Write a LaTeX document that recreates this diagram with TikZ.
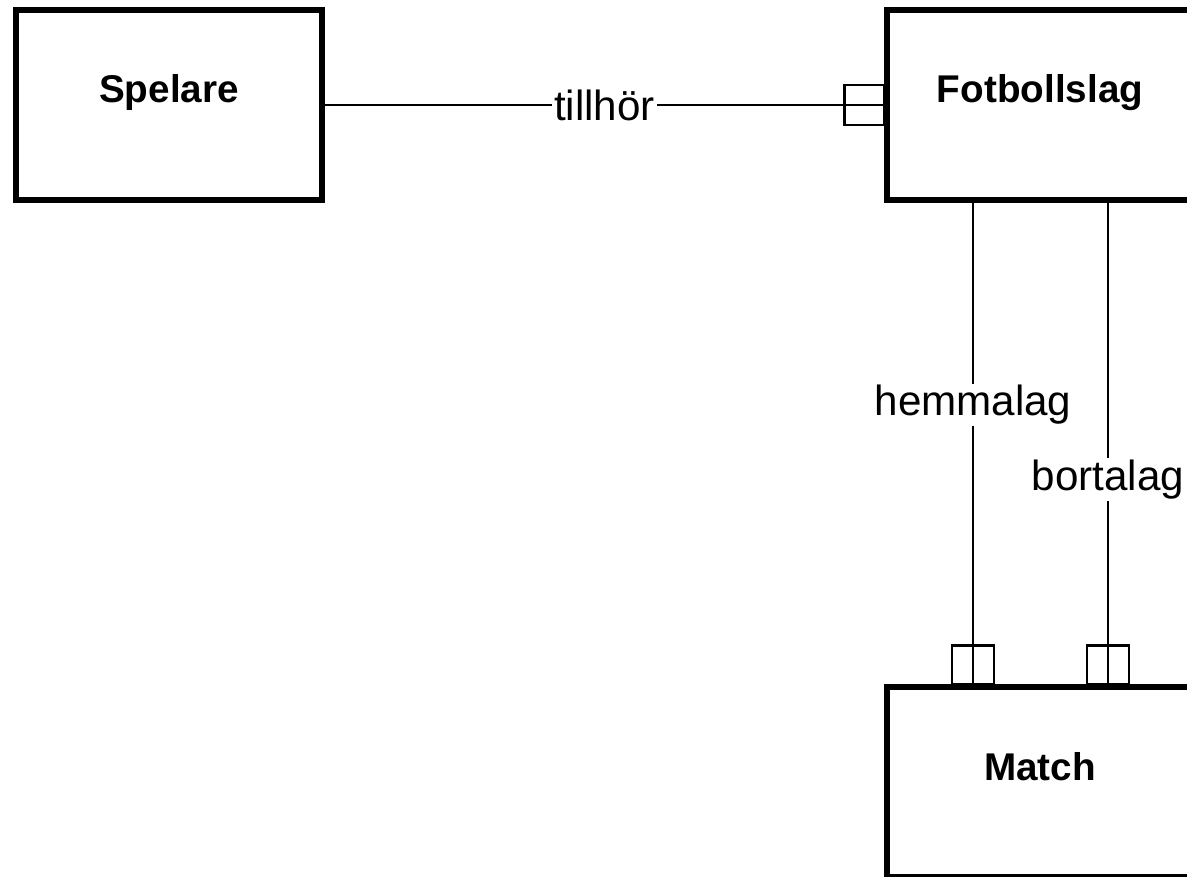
\documentclass[tikz,border=0pt]{standalone}
\usepackage{fontspec}
\setmainfont{Liberation Sans}
\usetikzlibrary{calc,positioning}

\begin{document}
\begin{tikzpicture}[
 entity/.style={draw, line width=3.2pt, minimum width=6.12cm, minimum height=3.8cm, inner sep=0pt},
 etitle/.style={font=\fontsize{22}{26}\selectfont\bfseries},
 rel/.style={fill=white, inner sep=1pt, font=\fontsize{24}{28}\selectfont},
 conn/.style={line width=1.6pt},
 many/.style={line width=1.6pt}
]
\useasboundingbox (0,0) rectangle (23.74,-17.52);
\clip (0,0) rectangle (23.74,-17.52);

% Entities
\node[entity] (spelare) at (3.38,-2.1) {};
\node[entity] (fotboll) at (20.8,-2.1) {};
\node[entity] (match) at (20.8,-15.64) {};

% Titles
\node[etitle] (spelareT) at ($(spelare.north)+(0,-1.7)$) {Spelare};
\node[etitle] (fotbollT) at ($(fotboll.north)+(0,-1.7)$) {Fotbollslag};
\node[etitle] (matchT) at ($(match.north)+(0,-1.65)$) {Match};

% Spelare -- Fotbollslag
\draw[conn] (spelare.east) -- node[rel] (tillhor) {tillhör} (fotboll.west);
\draw[many] ($(fotboll.west)+(-0.8,-0.4)$) rectangle ($(fotboll.west)+(0,0.4)$);

% Fotbollslag -- Match
\coordinate (hm) at (19.46,0);
\coordinate (bt) at (22.16,0);
\foreach \c/\txt/\p in {hm/hemmalag/0.42, bt/bortalag/0.575} {
 \draw[conn] (fotboll.south -| \c) -- node[rel, pos=\p] (\c lbl) {\txt} (match.north -| \c);
 \draw[many] ($(match.north -| \c)+(-0.42,0)$) rectangle ($(match.north -| \c)+(0.42,0.78)$);
}
\end{tikzpicture}
\end{document}
